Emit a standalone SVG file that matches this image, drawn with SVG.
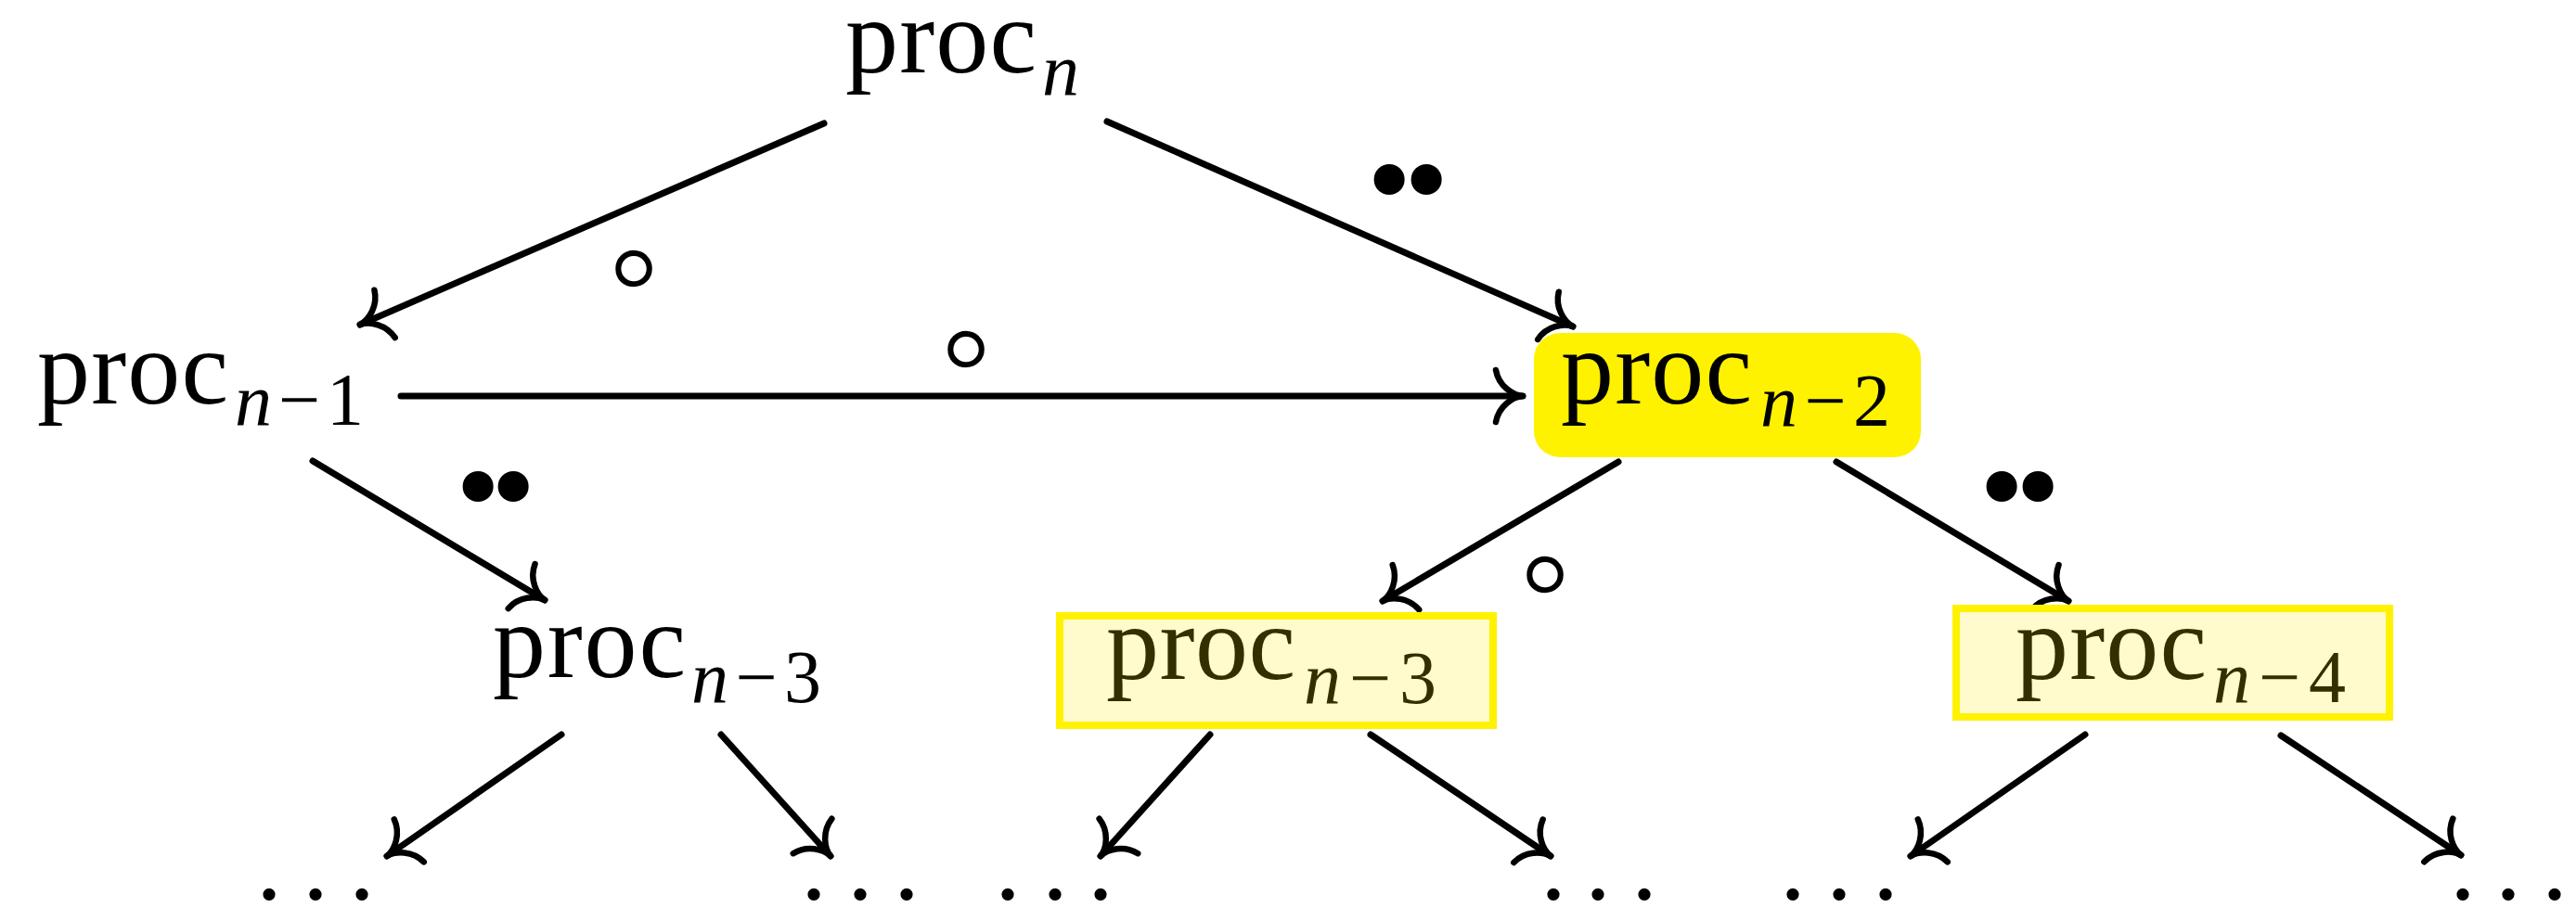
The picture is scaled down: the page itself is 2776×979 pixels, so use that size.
<svg xmlns="http://www.w3.org/2000/svg" width="2776" height="979" viewBox="0 0 2776 979">
<defs>
<style>
.t{font-family:"Liberation Serif","DejaVu Serif",serif;font-size:114px;fill:#000}
.s{font-family:"Liberation Serif","DejaVu Serif",serif;font-size:80px;fill:#000}
.i{font-style:italic}
.bx .t,.bx .s{fill:#332f00}
.e{fill:none;stroke:#000;stroke-width:7;stroke-linecap:round;marker-end:url(#to)}
.ring{font-family:"DejaVu Sans",sans-serif;font-size:135px;fill:#000;stroke:#fff;stroke-width:2.2;text-anchor:middle}
.bul{font-family:"DejaVu Sans",sans-serif;font-size:114px;fill:#000;text-anchor:middle}
.dots{font-family:"Liberation Serif",serif;font-size:112px;fill:#000}
</style>
<marker id="to" markerUnits="userSpaceOnUse" markerWidth="80" markerHeight="80" viewBox="-40 -40 80 80" refX="0" refY="0" orient="auto" overflow="visible">
<path d="M -29,-28 C -26,-11 -11,-0.8 0,0 M -29,28 C -26,11 -11,0.8 0,0" fill="none" stroke="#000" stroke-width="6.5" stroke-linecap="round"/>
</marker>
</defs>
<rect width="2776" height="979" fill="#fff"/>

<g id="edges">
<path class="e" d="M888,133 L388,350"/>
<path class="e" d="M1193,131 L1695,352"/>
<path class="e" d="M432,427 L1641,427"/>
<path class="e" d="M337,497 L587,647"/>
<path class="e" d="M1744,498 L1490,648"/>
<path class="e" d="M1979,498 L2229,648"/>
<path class="e" d="M605,792 L417,923"/>
<path class="e" d="M777,792 L895,923"/>
<path class="e" d="M1304,792 L1186,923"/>
<path class="e" d="M1477,792 L1671,923"/>
<path class="e" d="M2247,792 L2059,923"/>
<path class="e" d="M2458,793 L2652,922"/>
</g>

<g id="edge-labels">
<text class="ring" x="683" y="332">∘</text>
<text class="ring" x="1041" y="419">∘</text>
<text class="ring" x="1665" y="662">∘</text>
<text class="bul" x="1497 1537" y="236">••</text>
<text class="bul" x="515 553" y="567">••</text>
<text class="bul" x="2157 2196" y="567">••</text>
</g>

<g id="proc_n">
<text class="t" x="911" y="78" textLength="206" lengthAdjust="spacing">proc</text>
<text class="s i" x="1123" y="102">n</text>
</g>

<g id="proc_n-1">
<text class="t" x="40" y="435" textLength="206" lengthAdjust="spacing">proc</text>
<text class="s" x="253" y="458" textLength="139" lengthAdjust="spacing"><tspan class="i">n</tspan>−1</text>
</g>

<g id="proc_n-2">
<rect x="1653" y="359" width="417" height="134" rx="28" ry="28" fill="#fff200"/>
<text class="t" x="1682" y="435" textLength="206" lengthAdjust="spacing">proc</text>
<text class="s" x="1897" y="459" textLength="140" lengthAdjust="spacing"><tspan class="i">n</tspan>−2</text>
</g>

<g id="proc_n-3_a">
<text class="t" x="531" y="730" textLength="208" lengthAdjust="spacing">proc</text>
<text class="s" x="745" y="757" textLength="140" lengthAdjust="spacing"><tspan class="i">n</tspan>−3</text>
</g>

<g id="proc_n-3_b" class="bx">
<rect x="1142" y="664" width="467" height="118" fill="#fffbcc" stroke="#fff200" stroke-width="8"/>
<text class="t" x="1192" y="732" textLength="204" lengthAdjust="spacing">proc</text>
<text class="s" x="1405" y="758" textLength="143" lengthAdjust="spacing"><tspan class="i">n</tspan>−3</text>
</g>

<g id="proc_n-4" class="bx">
<rect x="2108" y="656" width="467" height="117" fill="#fffbcc" stroke="#fff200" stroke-width="8"/>
<text class="t" x="2172" y="732" textLength="206" lengthAdjust="spacing">proc</text>
<text class="s" x="2385" y="757" textLength="143" lengthAdjust="spacing"><tspan class="i">n</tspan>−4</text>
</g>

<g id="leaves">
<text class="dots" x="276 326 376" y="969">...</text>
<text class="dots" x="863 913 963" y="969">...</text>
<text class="dots" x="1072 1123 1172" y="969">...</text>
<text class="dots" x="1660 1708 1758" y="969">...</text>
<text class="dots" x="1918 1968 2018" y="969">...</text>
<text class="dots" x="2640 2689 2739" y="969">...</text>
</g>
</svg>
